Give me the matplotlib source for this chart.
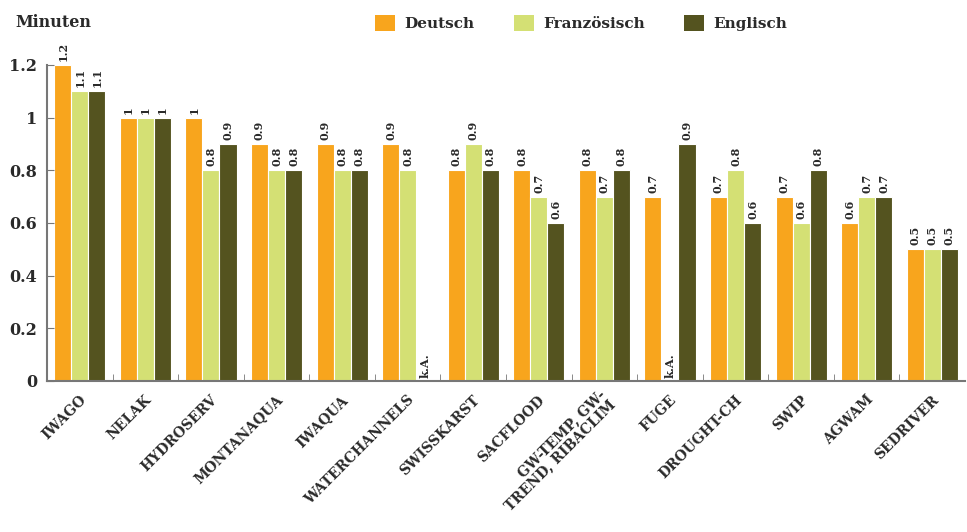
import numpy as np
import matplotlib.pyplot as plt
import matplotlib.transforms as mtransforms
from matplotlib.patches import Patch

projects = ["IWAGO", "NELAK", "HYDROSERV", "MONTANAQUA", "IWAQUA", "WATERCHANNELS",
            "SWISSKARST", "SACFLOOD", "GW-TEMP, GW-\nTREND, RIBACLIM", "FUGE",
            "DROUGHT-CH", "SWIP", "AGWAM", "SEDRIVER"]
deutsch = [1.2, 1, 1, 0.9, 0.9, 0.9, 0.8, 0.8, 0.8, 0.7, 0.7, 0.7, 0.6, 0.5]
franzoesisch = [1.1, 1, 0.8, 0.8, 0.8, 0.8, 0.9, 0.7, 0.7, None, 0.8, 0.6, 0.7, 0.5]
englisch = [1.1, 1, 0.9, 0.8, 0.8, None, 0.8, 0.6, 0.8, 0.9, 0.6, 0.8, 0.7, 0.5]

series = [("Deutsch", deutsch, "#F8A51D"),
          ("Französisch", franzoesisch, "#D4E074"),
          ("Englisch", englisch, "#54531F")]

plt.rcParams["font.family"] = ["DejaVu Serif"]
plt.rcParams["font.weight"] = "bold"
text_col = "#2a2a2a"

fig = plt.figure(figsize=(9.67, 5.32), dpi=100)
ax = fig.add_axes([0.0486, 0.284, 0.9494, 0.594])

x = np.arange(len(projects))
w = 0.26
for k, (name, vals, col) in enumerate(series):
    pos = x + (k - 1) * w
    for xi, v in zip(pos, vals):
        if v is None:
            ax.text(xi, 0.012, "k.A.", rotation=90, ha="center", va="bottom",
                    fontsize=8.2, fontweight="bold", color=text_col)
            continue
        ax.bar(xi, v, width=w, color=col, edgecolor="white", linewidth=0.8)
        ax.text(xi, v + 0.015, f"{v:g}", rotation=90, ha="center", va="bottom",
                fontsize=8, fontweight="bold", color=text_col, clip_on=False)

ax.set_xlim(-0.5, len(projects) - 0.5)
ax.set_ylim(0, 1.2)
ax.set_yticks(np.arange(0, 1.21, 0.2))
ax.set_yticklabels([f"{t:g}" for t in np.arange(0, 1.21, 0.2)])
ax.set_xticks(x)
ax.set_xticklabels(projects, rotation=45, ha="right", va="center",
                   rotation_mode="anchor", fontsize=10, color=text_col, linespacing=1.0)
ax.set_xticks(np.arange(0.5, len(projects) - 1, 1), minor=True)
ax.tick_params(axis="x", which="major", length=0, pad=12)
ax.tick_params(axis="x", which="minor", direction="in", length=5, color="#777777")
ax.tick_params(axis="y", direction="in", length=5, color="#777777",
               labelsize=11.5, labelcolor=text_col, pad=7)

# nudge the slanted labels a little to the right
shift = mtransforms.ScaledTranslation(4 / 100, 0, fig.dpi_scale_trans)
for lab in ax.get_xticklabels():
    lab.set_transform(lab.get_transform() + shift)

for s in ["top", "right"]:
    ax.spines[s].set_visible(False)
for s in ["left", "bottom"]:
    ax.spines[s].set_color("#777777")
    ax.spines[s].set_linewidth(1.5)

fig.text(0.016, 0.957, "Minuten", fontsize=11.5, fontweight="bold", color=text_col,
         ha="left", va="center")

handles = [Patch(facecolor=c, edgecolor="none", label=n) for n, _, c in series]
fig.legend(handles=handles, loc="center", bbox_to_anchor=(0.601, 0.957), ncol=3,
           frameon=False, handlelength=1.3, handleheight=1.3, handletextpad=0.6,
           columnspacing=2.6, prop={"family": "DejaVu Serif", "weight": "bold", "size": 11},
           labelcolor=text_col)

fig.savefig("out.png", dpi=100)
